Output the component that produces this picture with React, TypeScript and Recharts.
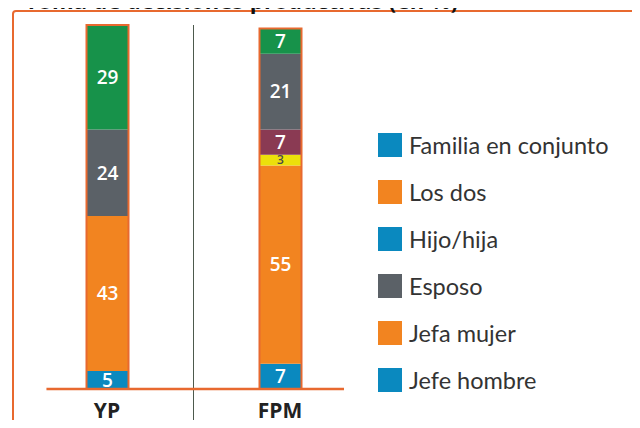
import React from 'react';
import { BarChart, Bar, XAxis, YAxis, Legend, LabelList, ReferenceLine } from 'recharts';

const categories = ['YP', 'FPM'];
const jefeHombre = [5, 7];
const jefaMujer = [43, 55];
const esposo = [0, 3];
const hijoHija = [0, 7];
const losDos = [24, 21];
const familia = [29, 7];

const legendLabels = ['Familia en conjunto', 'Los dos', 'Hijo/hija', 'Esposo', 'Jefa mujer', 'Jefe hombre'];
const legendColors = ['#0a89bf', '#f28420', '#0a89bf', '#5b6167', '#f28420', '#0a89bf'];

const title = 'Toma de decisiones productivas (en %)';

const BLUE = '#0a89bf';
const ORANGE = '#f28420';
const YELLOW = '#ece00b';
const MAROON = '#8a3a53';
const GRAY = '#5b6167';
const GREEN = '#17924a';
const FRAME = '#e8692f';

const data = categories.map((c, i) => ({
  idx: i,
  name: c,
  jefeHombre: jefeHombre[i],
  jefaMujer: jefaMujer[i],
  esposo: esposo[i],
  hijoHija: hijoHija[i],
  losDos: losDos[i],
  familia: familia[i],
  total: jefeHombre[i] + jefaMujer[i] + esposo[i] + hijoHija[i] + losDos[i] + familia[i],
}));

const series = [
  { key: 'jefeHombre', color: BLUE, label: '#ffffff', size: 19 },
  { key: 'jefaMujer', color: ORANGE, label: '#ffffff', size: 19 },
  { key: 'esposo', color: YELLOW, label: '#4a4a4a', size: 12 },
  { key: 'hijoHija', color: MAROON, label: '#ffffff', size: 19 },
  { key: 'losDos', color: GRAY, label: '#ffffff', size: 19 },
  { key: 'familia', color: GREEN, label: '#ffffff', size: 19 },
];

const fmt = (v: any) => (v === 0 || v == null ? '' : v);

const LegendContent = () => (
  <div style={{ fontFamily: 'Lato, sans-serif', fontSize: 23.5, color: '#333' }}>
    {legendLabels.map((l, i) => (
      <div key={l} style={{ display: 'flex', alignItems: 'center', height: 47 }}>
        <span style={{ display: 'inline-block', width: 24, height: 24, background: legendColors[i], marginRight: 7, flexShrink: 0 }} />
        <span style={{ whiteSpace: 'nowrap' }}>{l}</span>
      </div>
    ))}
  </div>
);

export default function App() {
  return (
    <div style={{ position: 'relative', width: 640, height: 428, margin: -8, overflow: 'hidden', background: '#fff' }}>
      <div
        style={{
          position: 'absolute',
          left: 11.5,
          top: 10,
          width: 700,
          height: 500,
          border: `2.5px solid ${FRAME}`,
          borderRadius: 4,
          boxSizing: 'border-box',
        }}
      />
      <div style={{ position: 'absolute', left: 0, top: 0 }}>
        <BarChart
          width={640}
          height={428}
          data={data}
          margin={{ top: 25, right: 23.5, bottom: 9, left: 20.5 }}
        >
          <XAxis
            dataKey="idx"
            type="number"
            domain={[-0.5, 1.5]}
            ticks={[0, 1]}
            tickFormatter={(v: number) => categories[v] ?? ''}
            axisLine={false}
            tickLine={false}
            tickMargin={8}
            height={30}
            tick={{ fontSize: 21, fontWeight: 700, fill: '#222', fontFamily: "'Open Sans', sans-serif" }}
          />
          <XAxis xAxisId="outline" dataKey="idx" type="number" domain={[-0.5, 1.5]} hide />
          <YAxis hide domain={[0, 101]} />
          {series.map((s) => (
            <Bar key={s.key} dataKey={s.key} stackId="a" fill={s.color} barSize={42} isAnimationActive={false}>
              <LabelList
                dataKey={s.key}
                position="center"
                formatter={fmt}
                fill={s.label}
                fontSize={s.size}
                fontWeight={600}
                fontFamily="'Open Sans', sans-serif"
              />
            </Bar>
          ))}
          <Bar
            dataKey="total"
            xAxisId="outline"
            fill="none"
            stroke={FRAME}
            strokeWidth={2}
            barSize={42}
            isAnimationActive={false}
            legendType="none"
          />
          <ReferenceLine
            segment={[{ x: 0.5, y: 101 }, { x: 0.5, y: -10.8 }]}
            stroke="#4d5a4d"
            strokeWidth={1}
            ifOverflow="visible"
          />
          <ReferenceLine
            segment={[{ x: -0.35, y: 0 }, { x: 1.37, y: 0 }]}
            stroke={FRAME}
            strokeWidth={2.5}
            ifOverflow="visible"
          />
          <Legend
            layout="vertical"
            align="right"
            verticalAlign="top"
            content={LegendContent}
            wrapperStyle={{ left: 378, top: 121, width: 250 }}
          />
        </BarChart>
      </div>
      <svg width={640} height={20} style={{ position: 'absolute', left: 0, top: 0, overflow: 'visible' }}>
        <text
          x={25}
          y={9}
          textLength={433}
          lengthAdjust="spacing"
          fontFamily="'Open Sans', sans-serif"
          fontWeight={700}
          fontSize={22}
          fill="#111"
        >
          {title}
        </text>
      </svg>
    </div>
  );
}
